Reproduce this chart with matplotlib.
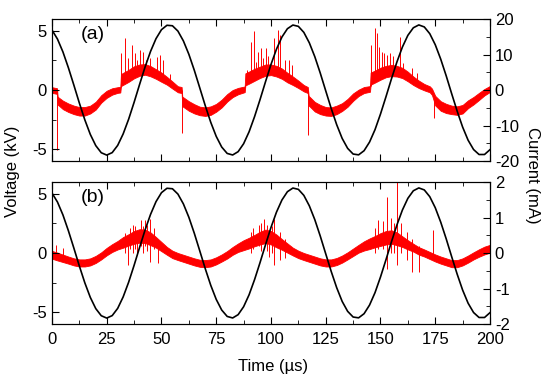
import numpy as np
import matplotlib
matplotlib.use("Agg")
import matplotlib.pyplot as plt
from matplotlib.ticker import MultipleLocator

plt.rcParams['font.family'] = ['Liberation Sans', 'DejaVu Sans']
plt.rcParams['axes.unicode_minus'] = False

# applied voltage (kV), every 2.5 us
volt_t = [0, 2.5, 5, 7.5, 10, 12.5, 15, 17.5, 20, 22.5, 25, 27.5, 30, 32.5, 35, 37.5,
          40, 42.5, 45, 47.5, 50, 52.5, 55, 57.5, 60, 62.5, 65, 67.5, 70, 72.5, 75, 77.5,
          80, 82.5, 85, 87.5, 90, 92.5, 95, 97.5, 100, 102.5, 105, 107.5, 110, 112.5, 115,
          117.5, 120, 122.5, 125, 127.5, 130, 132.5, 135, 137.5, 140, 142.5, 145, 147.5,
          150, 152.5, 155, 157.5, 160, 162.5, 165, 167.5, 170, 172.5, 175, 177.5, 180,
          182.5, 185, 187.5, 190, 192.5, 195, 197.5, 200]
volt_kv = [5.07, 4.31, 3.22, 1.88, 0.41, -1.10, -2.52, -3.75, -4.70, -5.30, -5.50, -5.29,
           -4.68, -3.71, -2.47, -1.04, 0.47, 1.94, 3.26, 4.34, 5.10, 5.47, 5.43, 4.98, 4.15,
           3.02, 1.66, 0.17, -1.33, -2.73, -3.92, -4.82, -5.36, -5.49, -5.21, -4.54, -3.53,
           -2.25, -0.81, 0.70, 2.16, 3.45, 4.48, 5.18, 5.49, 5.38, 4.87, 3.99, 2.82, 1.43,
           -0.07, -1.56, -2.93, -4.09, -4.93, -5.41, -5.48, -5.13, -4.40, -3.35, -2.03, -0.57,
           0.94, 2.37, 3.63, 4.62, 5.26, 5.50, 5.33, 4.76, 3.83, 2.61, 1.20, -0.31, -1.78,
           -3.13, -4.24, -5.03, -5.45, -5.45, -5.04]

# (a) discharge current (mA): middle of the noisy band and its half height
a_t = [0, 2.3, 2.6, 5, 7.5, 10, 12.5, 15, 17.5, 20, 22.5, 25, 27.5, 30, 31.2, 31.5, 35,
       37.5, 40, 42.5, 45, 47.5, 50, 52.5, 55, 57.5, 59.2, 59.5, 62.5, 65, 67.5, 70, 72.5,
       75, 77.5, 80, 82.5, 85, 88, 88.3, 90, 92.5, 95, 97.5, 100, 102.5, 105, 107.5, 110,
       112.5, 115, 116.8, 117.2, 120, 122.5, 125, 127.5, 130, 132.5, 135, 137.5, 140,
       142.5, 145.2, 145.5, 147.5, 150, 152.5, 155, 157.5, 160, 162.5, 165, 167.5, 170,
       172.5, 173.5, 175, 177.5, 180, 182.5, 185, 187.5, 190, 192.5, 195, 197.5, 200]
a_mid = [0.0, -0.3, -3.0, -4.2, -5.0, -5.6, -6.0, -6.0, -5.5, -4.4, -2.5, -1.2, -0.4, 0.0,
         0.1, 2.8, 4.0, 5.0, 5.6, 5.8, 5.3, 4.5, 3.6, 2.6, 1.4, 0.2, 0.0, -3.2, -4.5, -5.3,
         -5.9, -6.1, -5.8, -5.0, -3.8, -2.2, -1.0, -0.3, 0.2, 3.0, 3.5, 4.3, 5.0, 5.6, 5.7,
         5.3, 4.6, 3.5, 2.6, 1.6, 0.5, 0.0, -3.0, -4.7, -5.5, -6.0, -6.1, -5.6, -4.8, -3.6,
         -2.0, -0.8, 0.0, 0.3, 3.2, 3.8, 4.6, 5.2, 5.5, 5.3, 4.8, 3.8, 2.6, 1.6, 0.8, 0.2,
         -0.5, -3.0, -4.5, -5.2, -5.6, -5.8, -5.4, -4.0, -3.0, -1.8, -0.6, 0.3]
a_hw = [0.8, 0.8, 1.1, 1.2, 1.2, 1.2, 1.2, 1.2, 1.1, 1.1, 1.05, 1.0, 0.9, 0.8, 0.8, 1.7,
        1.7, 1.7, 1.6, 1.5, 1.45, 1.35, 1.3, 1.1, 1.0, 0.85, 0.85, 1.35, 1.35, 1.3, 1.2, 1.2,
        1.2, 1.1, 1.1, 1.05, 1.0, 0.9, 0.8, 1.7, 1.7, 1.7, 1.6, 1.6, 1.5, 1.5, 1.45, 1.35,
        1.2, 1.05, 0.9, 0.85, 1.35, 1.35, 1.3, 1.2, 1.2, 1.2, 1.1, 1.1, 1.05, 0.9, 0.85, 0.8,
        1.7, 1.7, 1.7, 1.6, 1.6, 1.5, 1.45, 1.35, 1.2, 1.05, 0.9, 0.85, 0.9, 1.35, 1.35, 1.3,
        1.2, 1.2, 1.2, 1.1, 1.05, 1.0, 0.9, 0.85]
# (a) current pulses: time, bottom, top
a_spk_t = [2.4, 31.5, 33.3, 34.9, 36.4, 37.9, 38.7, 40.2, 41.7, 42.9, 44.7, 47.8, 49.3,
           50.8, 53.9, 59.4, 88.9, 90.9, 92.4, 93.0, 94.2, 95.4, 96.5, 97.6, 98.8, 101.5,
           103.0, 104.0, 106.4, 108.4, 109.7, 117.0, 145.5, 147.5, 148.3, 149.5, 150.6,
           151.6, 152.9, 154.4, 155.9, 158.9, 160.4, 164.2, 166.5, 174.4]
a_spk_lo = [-17.0, 2.0, 2.0, 3.0, 3.0, 4.0, 4.0, 5.0, 5.0, 5.0, 5.0, 4.0, 3.5, 3.0, 1.5,
            -12.1, 2.0, 3.0, 3.5, 3.5, 4.0, 4.0, 4.5, 5.0, 5.0, 5.0, 5.0, 5.0, 4.0, 3.0,
            2.5, -12.7, 1.0, 3.0, 3.0, 4.0, 4.0, 4.5, 5.0, 5.0, 5.0, 5.0, 4.5, 3.0, 2.0, -8.0]
a_spk_hi = [0.0, 10.4, 14.7, 9.0, 12.7, 10.4, 8.5, 11.3, 10.7, 8.5, 9.0, 9.3, 9.9, 8.5,
            4.5, 0.0, 5.6, 13.6, 16.5, 8.0, 10.8, 11.8, 9.0, 11.8, 9.5, 14.6, 17.0, 15.5,
            8.5, 8.5, 7.0, 0.0, 12.7, 17.4, 16.0, 12.2, 10.8, 10.4, 10.0, 10.4, 9.5, 15.0,
            7.6, 6.1, 4.7, -1.0]

# (b) current (mA), every 2.5 us
b_t = volt_t
b_mid = [-0.05, -0.1, -0.15, -0.2, -0.25, -0.28, -0.28, -0.25, -0.18, -0.08, 0.04, 0.14,
         0.22, 0.3, 0.37, 0.44, 0.48, 0.47, 0.4, 0.3, 0.18, 0.06, -0.04, -0.1, -0.15, -0.2,
         -0.25, -0.29, -0.3, -0.28, -0.22, -0.14, -0.05, 0.06, 0.15, 0.22, 0.28, 0.35, 0.42,
         0.47, 0.43, 0.34, 0.24, 0.14, 0.04, -0.04, -0.1, -0.15, -0.2, -0.25, -0.28, -0.28,
         -0.24, -0.17, -0.08, 0.02, 0.12, 0.2, 0.26, 0.32, 0.38, 0.43, 0.45, 0.4, 0.32, 0.23,
         0.15, 0.06, 0.0, -0.07, -0.14, -0.2, -0.25, -0.3, -0.3, -0.25, -0.17, -0.08, 0.0,
         0.07, 0.12]
b_hw = [0.11, 0.11, 0.105, 0.1, 0.1, 0.1, 0.1, 0.1, 0.1, 0.1, 0.105, 0.11, 0.12,
        0.15, 0.16, 0.18, 0.19, 0.19, 0.18, 0.15, 0.13, 0.11, 0.105, 0.1, 0.1, 0.1, 0.1,
        0.1, 0.1, 0.1, 0.1, 0.1, 0.105, 0.11, 0.12, 0.14, 0.15, 0.16, 0.18, 0.19, 0.19,
        0.18, 0.15, 0.13, 0.11, 0.105, 0.1, 0.1, 0.1, 0.1, 0.1, 0.1, 0.1, 0.1, 0.1,
        0.105, 0.11, 0.13, 0.15, 0.16, 0.18, 0.19, 0.19, 0.18, 0.15, 0.13, 0.11, 0.105, 0.1,
        0.1, 0.1, 0.1, 0.1, 0.1, 0.1, 0.1, 0.1, 0.1, 0.105, 0.11, 0.11]
b_spk_t = [2.0, 5.0, 33.5, 34.9, 35.5, 37.0, 38.0, 39.0, 40.5, 41.5, 42.5, 43.5, 44.7,
           46.5, 48.5, 91.0, 92.0, 94.5, 95.5, 96.9, 98.0, 99.0, 100.3, 101.5, 104.0,
           106.4, 147.5, 149.0, 151.0, 152.8, 155.0, 156.2, 157.4, 159.5, 162.0, 164.2,
           167.7, 173.8]
b_spk_lo = [-0.2, -0.25, 0.0, -0.34, 0.1, 0.0, 0.1, -0.05, 0.2, 0.0, 0.2, 0.05, -0.24,
            0.1, -0.29, 0.0, 0.1, 0.2, 0.05, 0.3, 0.05, -0.1, 0.0, -0.34, -0.2, -0.15, 0.0,
            0.1, 0.1, -0.44, 0.0, 0.0, -0.34, 0.0, -0.2, -0.53, -0.53, -0.1]
b_spk_hi = [0.22, 0.15, 0.55, 0.3, 0.7, 0.8, 0.75, 0.5, 0.92, 0.75, 0.92, 0.8, 0.97, 0.7,
            0.3, 0.6, 0.7, 0.8, 0.85, 0.95, 0.8, 0.6, 0.75, 0.97, 0.6, 0.4, 0.7, 0.92, 0.9,
            1.57, 1.0, 0.85, 2.0, 0.85, 0.6, 0.4, 0.2, 0.64]


def drawPanel(ax, t, mid, hw, spk_t, spk_lo, spk_hi, ilim, istep, tag):
    axr = ax.twinx()
    mid = np.array(mid)
    hw = np.array(hw)
    axr.fill_between(t, mid - hw, mid + hw, color='red', lw=0.6)
    axr.vlines(spk_t, spk_lo, spk_hi, color='red', lw=0.7)
    axr.set_ylim(-ilim, ilim)
    axr.yaxis.set_major_locator(MultipleLocator(istep))
    axr.yaxis.set_minor_locator(MultipleLocator(istep / 2))
    axr.tick_params(which='both', direction='in', labelsize=12)
    axr.tick_params(which='major', length=5)
    axr.tick_params(which='minor', length=3)

    # voltage drawn above the current
    ax.set_zorder(axr.get_zorder() + 1)
    ax.patch.set_visible(False)
    ax.plot(volt_t, volt_kv, color='black', lw=1.2)
    ax.set_xlim(0, 200)
    ax.set_ylim(-6, 6)
    ax.xaxis.set_major_locator(MultipleLocator(25))
    ax.xaxis.set_minor_locator(MultipleLocator(12.5))
    ax.yaxis.set_major_locator(MultipleLocator(5))
    ax.yaxis.set_minor_locator(MultipleLocator(2.5))
    ax.tick_params(which='both', direction='in', top=True, right=False, labelsize=12)
    ax.tick_params(axis='x', pad=6)
    ax.tick_params(which='major', length=5)
    ax.tick_params(which='minor', length=3)
    ax.text(0.065, 0.89, tag, transform=ax.transAxes, fontsize=14, va='center')
    return axr


fig = plt.figure(figsize=(5.5, 3.81), dpi=100)
axa = fig.add_axes([0.0945, 0.5774, 0.7964, 0.3727])
axb = fig.add_axes([0.0945, 0.1496, 0.7964, 0.3727])

drawPanel(axa, a_t, a_mid, a_hw, a_spk_t, a_spk_lo, a_spk_hi, 20, 10, '(a)')
drawPanel(axb, b_t, b_mid, b_hw, b_spk_t, b_spk_lo, b_spk_hi, 2, 1, '(b)')
axa.tick_params(labelbottom=False)

fig.text(0.022, 0.55, 'Voltage (kV)', rotation=90, va='center', ha='center', fontsize=12)
fig.text(0.968, 0.54, 'Current (mA)', rotation=-90, va='center', ha='center', fontsize=12)
fig.text(0.496, 0.037, 'Time (\u00b5s)', va='center', ha='center', fontsize=12)

fig.savefig('out.png', dpi=100)
